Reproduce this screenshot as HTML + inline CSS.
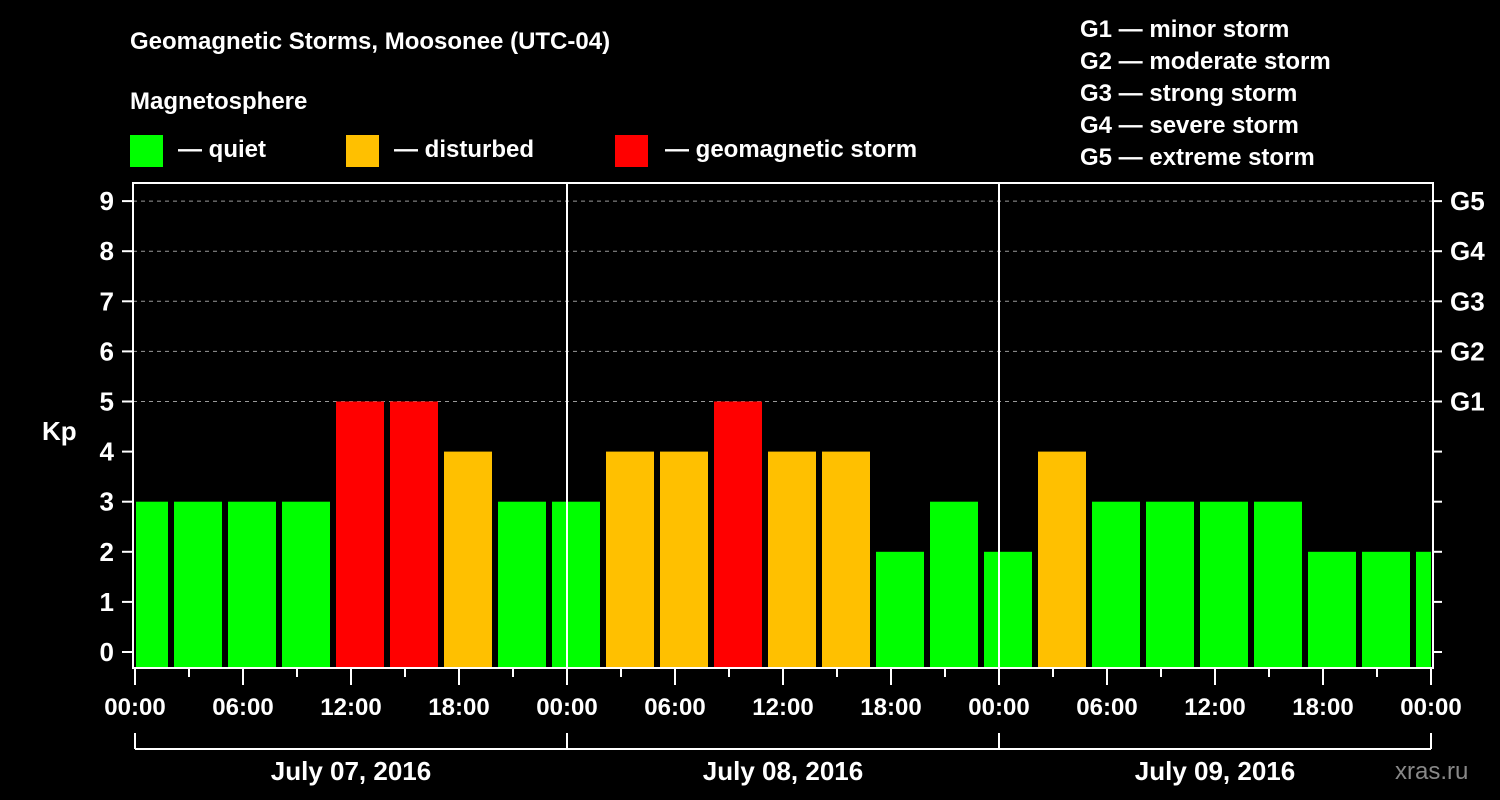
<!DOCTYPE html>
<html><head><meta charset="utf-8"><style>
body{margin:0;background:#000;width:1500px;height:800px;overflow:hidden}
svg{display:block;font-family:"Liberation Sans",Arial,sans-serif;font-weight:bold}
</style></head><body>
<svg id="c" width="1500" height="800" viewBox="0 0 1500 800">
<text x="130" y="49" fill="#fff" font-size="24">Geomagnetic Storms, Moosonee (UTC-04)</text>
<text x="130" y="109" fill="#fff" font-size="24">Magnetosphere</text>
<g><rect x="130" y="135" width="33" height="32" fill="#00ff00"/><text x="178" y="157" fill="#fff" font-size="24">— quiet</text></g>
<g><rect x="346" y="135" width="33" height="32" fill="#ffc000"/><text x="394" y="157" fill="#fff" font-size="24">— disturbed</text></g>
<g><rect x="615" y="135" width="33" height="32" fill="#ff0000"/><text x="665" y="157" fill="#fff" font-size="24">— geomagnetic storm</text></g>
<g fill="#fff" font-size="24">
<text x="1080" y="37">G1 — minor storm</text><text x="1080" y="69">G2 — moderate storm</text><text x="1080" y="101">G3 — strong storm</text><text x="1080" y="133">G4 — severe storm</text><text x="1080" y="165">G5 — extreme storm</text></g>
<text x="42" y="440" fill="#fff" font-size="26">Kp</text>
<g id="grid"></g><g id="bars"></g><g id="axes"></g>
<text x="1395" y="779" fill="#888" font-size="24" font-weight="normal">xras.ru</text>
</svg>
<script>
const kpValues=[3,3,3,3,5,5,4,3,3,4,4,5,4,4,2,3,2,4,3,3,3,3,2,2,2];
const barHours=[0.5,3.5,6.5,9.5,12.5,15.5,18.5,21.5,24.5,27.5,30.5,33.5,36.5,39.5,42.5,45.5,48.5,51.5,54.5,57.5,60.5,63.5,66.5,69.5,72.5];
const xTickLabels=["00:00","06:00","12:00","18:00"];
const dateLabels=["July 07, 2016","July 08, 2016","July 09, 2016"];
const gLabels=["G1","G2","G3","G4","G5"];
const NS="http://www.w3.org/2000/svg";
const L=133,R=1433,T=183,B=668;
const x=h=>135+h*18;
const y=v=>652-v*50.1;
function mk(tag,attrs,parent,txt){const e=document.createElementNS(NS,tag);for(const k in attrs)e.setAttribute(k,attrs[k]);if(txt!==undefined)e.textContent=txt;document.getElementById(parent).appendChild(e);return e;}
const color=v=>v>=5?"#ff0000":v>=4?"#ffc000":"#00ff00";
for(let v=5;v<=9;v++){const e=mk("line",{x1:L,x2:R,y1:y(v),y2:y(v),stroke:"#999","stroke-dasharray":"4,4"},"grid");

}
kpValues.forEach((v,i)=>{const c=x(barHours[i]);let x0=Math.max(c-24,L+3),x1=Math.min(c+24,R-2);
const e=mk("rect",{x:x0,y:y(v),width:x1-x0,height:B-y(v),fill:color(v)},"bars");

});
let e=mk("rect",{x:L,y:T,width:R-L,height:B-T,fill:"none",stroke:"#fff","stroke-width":2},"axes");


[24,48].forEach(h=>{const l=mk("line",{x1:x(h),x2:x(h),y1:T,y2:B,stroke:"#fff","stroke-width":2},"axes");

});
for(let v=0;v<=9;v++){mk("line",{x1:122,x2:L,y1:y(v),y2:y(v),stroke:"#fff","stroke-width":2},"axes");
mk("line",{x1:R,x2:1442,y1:y(v),y2:y(v),stroke:"#fff","stroke-width":2},"axes");
const t=mk("text",{x:114,y:y(v)+9,fill:"#fff","font-size":26,"text-anchor":"end"},"axes",String(v));

}
gLabels.forEach((g,i)=>{const t=mk("text",{x:1450,y:y(5+i)+9,fill:"#fff","font-size":26},"axes",g);

});
for(let h=0;h<=72;h+=3){const big=h%6===0;mk("line",{x1:x(h),x2:x(h),y1:B,y2:big?685:677,stroke:"#fff","stroke-width":2},"axes");
if(big){const t=mk("text",{x:x(h),y:715,fill:"#fff","font-size":24,"text-anchor":"middle"},"axes",xTickLabels[(h/6)%4]);

}}
mk("line",{x1:x(0),x2:x(72),y1:749,y2:749,stroke:"#fff","stroke-width":2},"axes");
for(let d=0;d<=3;d++)mk("line",{x1:x(24*d),x2:x(24*d),y1:733,y2:749,stroke:"#fff","stroke-width":2},"axes");
dateLabels.forEach((s,i)=>{const t=mk("text",{x:x(24*i+12),y:780,fill:"#fff","font-size":26,"text-anchor":"middle"},"axes",s);

});
</script>
</body></html>
